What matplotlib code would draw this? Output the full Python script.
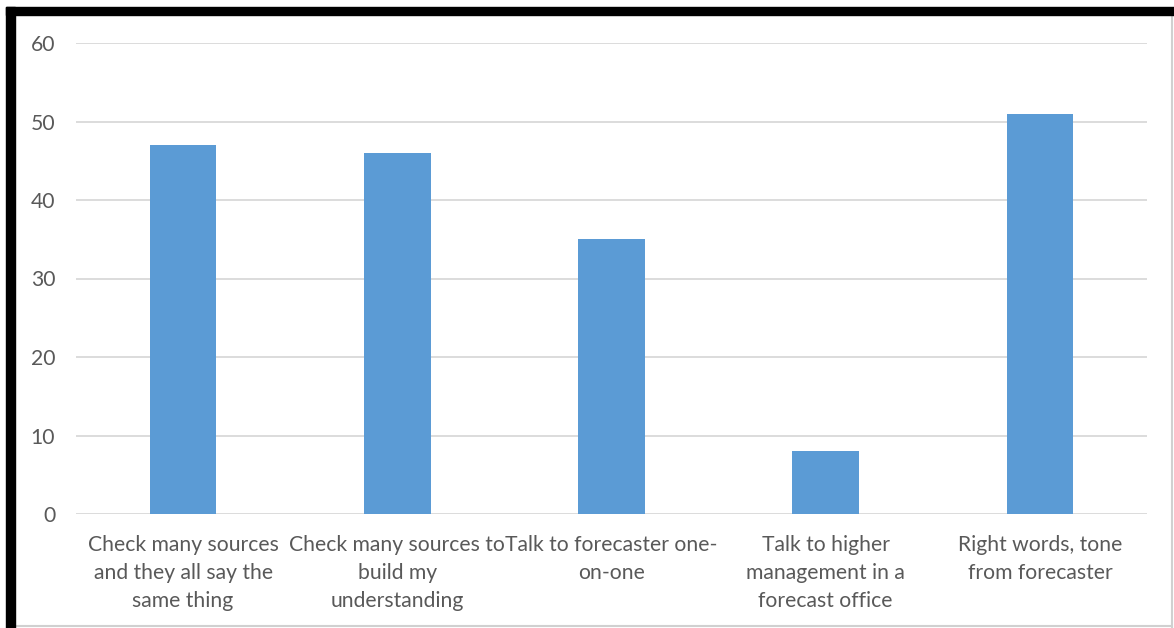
import matplotlib
matplotlib.use("Agg")
import matplotlib.pyplot as plt
from matplotlib.patches import Rectangle
from matplotlib.lines import Line2D

categories = [
    "Check many sources\nand they all say the\nsame thing",
    "Check many sources to\nbuild my\nunderstanding",
    "Talk to forecaster one-\non-one",
    "Talk to higher\nmanagement in a\nforecast office",
    "Right words, tone\nfrom forecaster",
]
values = [47, 46, 35, 8, 51]
yticks = [0, 10, 20, 30, 40, 50, 60]

W, H = 1174, 628
fig = plt.figure(figsize=(W / 100, H / 100), dpi=100)
fig.patch.set_facecolor("white")

ax = fig.add_axes([76 / W, 1 - 514 / H, (1147 - 76) / W, (514 - 43) / H])
x = range(len(categories))
ax.bar(x, values, width=0.31, color="#5B9BD5", zorder=3)
ax.set_xlim(-0.5, len(categories) - 0.5)
ax.set_ylim(0, 60)
ax.set_yticks(yticks)
ax.set_xticks(list(x))
ax.set_xticklabels(categories, linespacing=1.5)
ax.grid(axis="y", color="#D9D9D9", linewidth=1.3, zorder=0)
for s in ax.spines.values():
    s.set_visible(False)
ax.tick_params(axis="both", length=0, labelsize=15.2, labelcolor="#595959")
ax.tick_params(axis="y", pad=15)
ax.tick_params(axis="x", pad=15)
for lbl in ax.get_xticklabels() + ax.get_yticklabels():
    lbl.set_fontfamily("Lato")

# frame around the picture
fig.patches.append(Rectangle((6 / W, 0), 9 / W, 1 - 7 / H, transform=fig.transFigure,
                             color="black", zorder=10))
fig.patches.append(Rectangle((6 / W, 1 - 15 / H), 1 - 6 / W, 8 / H, transform=fig.transFigure,
                             color="black", zorder=10))
fig.lines.append(Line2D([1172 / W, 1172 / W], [0, 1 - 15 / H], transform=fig.transFigure,
                        color="#D0D0D0", linewidth=1.5))
fig.lines.append(Line2D([15 / W, 1172 / W], [1 - 626 / H, 1 - 626 / H], transform=fig.transFigure,
                        color="#D0D0D0", linewidth=1.5))

fig.savefig("out.png", dpi=100, facecolor="white")
